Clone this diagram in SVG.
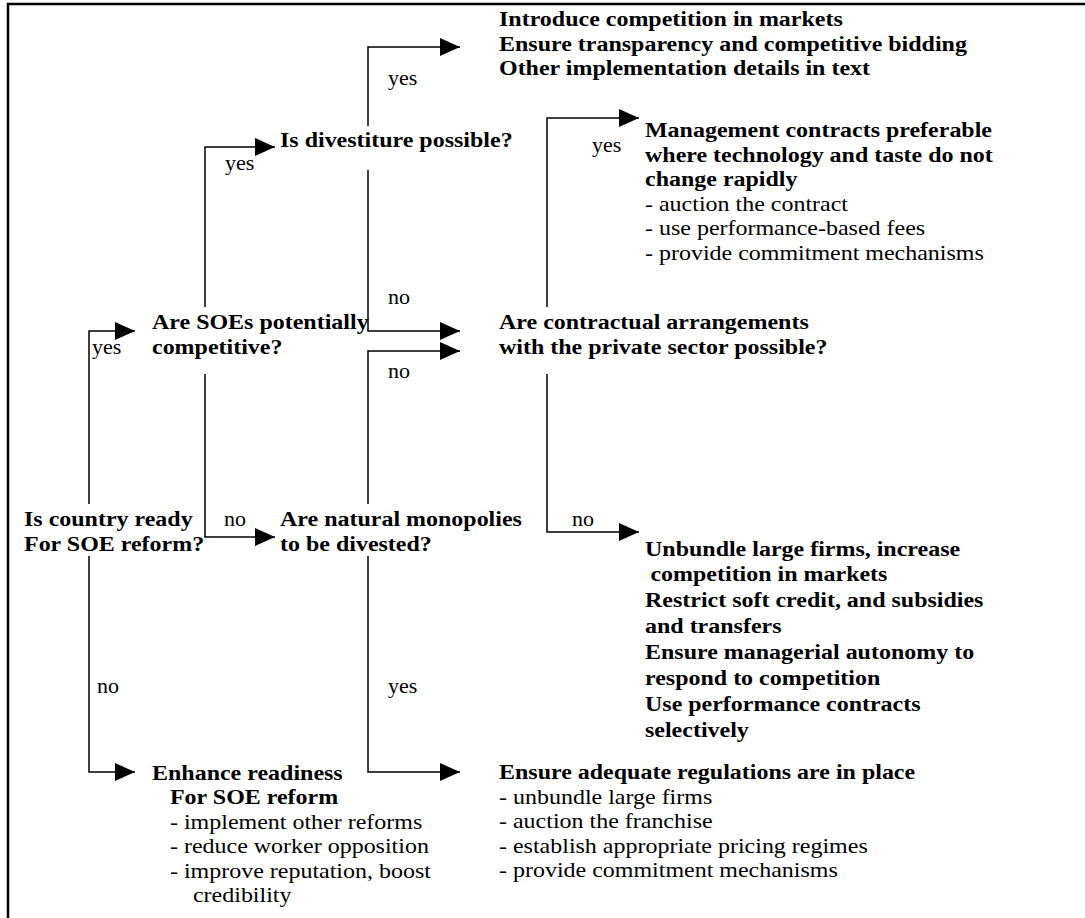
<svg xmlns="http://www.w3.org/2000/svg" width="1085" height="918" viewBox="0 0 1085 918">
<style>
  .t { font-family: 'Liberation Serif', 'DejaVu Serif', serif; font-size: 22px; fill: #000; }
  .b { font-weight: bold; }
  .ln { stroke: #000; stroke-width: 1.5; fill: none; }
  .frame { stroke: #000; stroke-width: 2.5; fill: none; }
</style>
<defs>
  <marker id="ah" markerUnits="userSpaceOnUse" markerWidth="20" markerHeight="18" refX="20" refY="9" orient="auto">
    <path d="M0,0 L20,9 L0,18 z" fill="#000"/>
  </marker>
</defs>
<rect width="1085" height="918" fill="#fff"/>
<path class="frame" d="M8,918 V4 H1085"/>

<g font-family="Liberation Serif, DejaVu Serif, serif" class="t">
<g id="connectors">
  <path class="ln" d="M368,126 V47 H460" marker-end="url(#ah)"/>
  <path class="ln" d="M205,307 V147 H275" marker-end="url(#ah)"/>
  <path class="ln" d="M368,170 V331 H460" marker-end="url(#ah)"/>
  <path class="ln" d="M89,504 V331 H135" marker-end="url(#ah)"/>
  <path class="ln" d="M205,374 V537 H275" marker-end="url(#ah)"/>
  <path class="ln" d="M368,504 V351 H460" marker-end="url(#ah)"/>
  <path class="ln" d="M547,307 V118 H639" marker-end="url(#ah)"/>
  <path class="ln" d="M547,374 V532 H639" marker-end="url(#ah)"/>
  <path class="ln" d="M89,556 V772 H135" marker-end="url(#ah)"/>
  <path class="ln" d="M368,556 V772 H460" marker-end="url(#ah)"/>
  <g id="labels">
    <text class="t" x="388" y="85">yes</text>
    <text class="t" x="225" y="170">yes</text>
    <text class="t" x="592" y="152">yes</text>
    <text class="t" x="388" y="304">no</text>
    <text class="t" x="92" y="354">yes</text>
    <text class="t" x="388" y="378">no</text>
    <text class="t" x="224" y="526">no</text>
    <text class="t" x="572" y="526">no</text>
    <text class="t" x="97" y="693">no</text>
    <text class="t" x="388" y="693">yes</text>
  </g>
</g>

<g id="n-introduce" transform="translate(499,0) scale(1.09,1)">
  <text class="t b" x="0" y="26">Introduce competition in markets</text>
  <text class="t b" x="0" y="51">Ensure transparency and competitive bidding</text>
  <text class="t b" x="0" y="75">Other implementation details in text</text>
</g>

<g id="n-divest" transform="translate(280,0) scale(1.09,1)">
  <text class="t b" x="0" y="147">Is divestiture possible?</text>
</g>

<g id="n-management" transform="translate(645,0) scale(1.09,1)">
  <text class="t b" x="0" y="137">Management contracts preferable</text>
  <text class="t b" x="0" y="162">where technology and taste do not</text>
  <text class="t b" x="0" y="186">change rapidly</text>
  <text class="t" x="0" y="211">- auction the contract</text>
  <text class="t" x="0" y="235">- use performance-based fees</text>
  <text class="t" x="0" y="260">- provide commitment mechanisms</text>
</g>

<g id="n-soes" transform="translate(152,0) scale(1.09,1)">
  <text class="t b" x="0" y="329">Are SOEs potentially</text>
  <text class="t b" x="0" y="354">competitive?</text>
</g>

<g id="n-contractual" transform="translate(499,0) scale(1.09,1)">
  <text class="t b" x="0" y="329">Are contractual arrangements</text>
  <text class="t b" x="0" y="354">with the private sector possible?</text>
</g>

<g id="n-country" transform="translate(24,0) scale(1.09,1)">
  <text class="t b" x="0" y="526">Is country ready</text>
  <text class="t b" x="0" y="551">For SOE reform?</text>
</g>

<g id="n-natural" transform="translate(280,0) scale(1.09,1)">
  <text class="t b" x="0" y="526">Are natural monopolies</text>
  <text class="t b" x="0" y="551">to be divested?</text>
</g>

<g id="n-unbundle" transform="translate(645,0) scale(1.09,1)">
  <text class="t b" x="0" y="556">Unbundle large firms, increase</text>
  <text class="t b" x="5" y="581">competition in markets</text>
  <text class="t b" x="0" y="607">Restrict soft credit, and subsidies</text>
  <text class="t b" x="0" y="633">and transfers</text>
  <text class="t b" x="0" y="659">Ensure managerial autonomy to</text>
  <text class="t b" x="0" y="685">respond to competition</text>
  <text class="t b" x="0" y="711">Use performance contracts</text>
  <text class="t b" x="0" y="737">selectively</text>
</g>

<g id="n-enhance" transform="translate(152,0) scale(1.09,1)">
  <text class="t b" x="0" y="780">Enhance readiness</text>
  <text class="t b" x="16.5" y="804">For SOE reform</text>
  <text class="t" x="16.5" y="829">- implement other reforms</text>
  <text class="t" x="16.5" y="853">- reduce worker opposition</text>
  <text class="t" x="16.5" y="878">- improve reputation, boost</text>
  <text class="t" x="37.6" y="902">credibility</text>
</g>

<g id="n-regulations" transform="translate(499,0) scale(1.09,1)">
  <text class="t b" x="0" y="779">Ensure adequate regulations are in place</text>
  <text class="t" x="0" y="804">- unbundle large firms</text>
  <text class="t" x="0" y="828">- auction the franchise</text>
  <text class="t" x="0" y="853">- establish appropriate pricing regimes</text>
  <text class="t" x="0" y="877">- provide commitment mechanisms</text>
</g>
</g>
</svg>
